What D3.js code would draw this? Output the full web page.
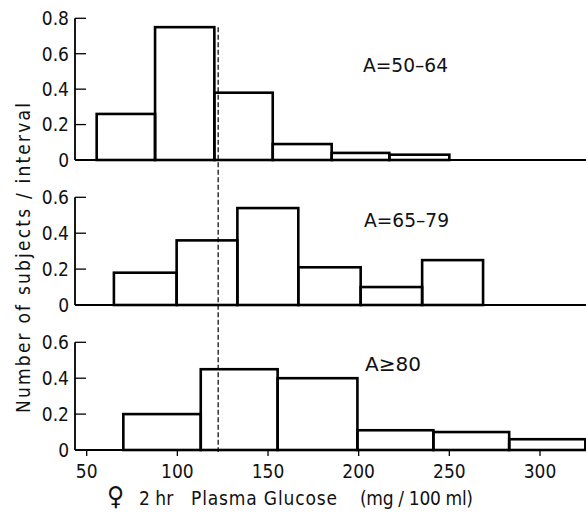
<!DOCTYPE html>
<html><head><meta charset="utf-8">
<script src="https://cdn.jsdelivr.net/npm/d3@7"></script>
<style>
body{margin:0;background:#fff;}
text{font-family:"DejaVu Sans",sans-serif;font-stretch:condensed;fill:#111;}
</style></head>
<body><svg id="c" width="586" height="518"></svg>
<script>
// ---- data ----
const panelLabels = ["A=50\u201364", "A=65\u201379", "A\u226580"];
const edges50 = [55.5, 87.7, 120.4, 152.6, 185.1, 216.9, 250];
const values50 = [0.26, 0.75, 0.38, 0.09, 0.04, 0.03];
const edges65 = [65, 99.6, 133.1, 166.7, 201.1, 235, 268.6];
const values65 = [0.18, 0.36, 0.54, 0.21, 0.10, 0.25];
const edges80 = [70.2, 112.9, 155.3, 199.3, 241.2, 283, 325];
const values80 = [0.20, 0.45, 0.40, 0.11, 0.10, 0.06];
const yTicksTop = [0, 0.2, 0.4, 0.6, 0.8];
const yTicksOther = [0, 0.2, 0.4, 0.6];
const xTicks = [50, 100, 150, 200, 250, 300];
const refValue = 122.5;

const svg = d3.select("#c");
const x = d3.scaleLinear().domain([50, 300]).range([86.7, 540]);
const axisX = 75, rightEdge = 586;

const panels = [
  {edges: edges50, values: values50, ymax: 0.8, ticks: yTicksTop, y0: 160, y1: 18.3, label: panelLabels[0], lx: 363, ly: 71.5},
  {edges: edges65, values: values65, ymax: 0.6, ticks: yTicksOther, y0: 305, y1: 197.3, label: panelLabels[1], lx: 364, ly: 227},
  {edges: edges80, values: values80, ymax: 0.6, ticks: yTicksOther, y0: 450, y1: 342.3, label: panelLabels[2], lx: 365, ly: 370.5}
];

panels.forEach((p, pi) => {
  const y = d3.scaleLinear().domain([0, p.ymax]).range([p.y0, p.y1]);
  p.y = y;
  const g = svg.append("g");
  const bins = p.values.map((v, i) => ({x0: p.edges[i], x1: p.edges[i + 1], v}));
  g.selectAll("rect").data(bins).join("rect")
    .attr("x", d => x(d.x0)).attr("width", d => x(d.x1) - x(d.x0))
    .attr("y", d => y(d.v)).attr("height", d => y(0) - y(d.v))
    .attr("fill", "none").attr("stroke", "#000").attr("stroke-width", 2.6);
  g.append("line").attr("x1", axisX).attr("x2", axisX).attr("y1", y(p.ymax)).attr("y2", y(0))
    .attr("stroke", "#000").attr("stroke-width", 1.8);
  g.append("line").attr("x1", axisX).attr("x2", rightEdge).attr("y1", y(0)).attr("y2", y(0))
    .attr("stroke", "#000").attr("stroke-width", 1.8);
  g.selectAll("line.t").data(p.ticks.filter(t => t > 0)).join("line").attr("class", "t")
    .attr("x1", axisX).attr("x2", axisX + 11).attr("y1", d => y(d)).attr("y2", d => y(d))
    .attr("stroke", "#000").attr("stroke-width", 1.3);
  g.selectAll("text.tl").data(p.ticks).join("text").attr("class", "tl")
    .attr("x", 69).attr("y", d => y(d)).attr("dy", "0.36em")
    .attr("text-anchor", "end").attr("font-size", 19)
    .text(d => d === 0 ? "0" : d3.format(".1f")(d));
  g.append("text").attr("x", p.lx).attr("y", p.ly).attr("font-size", 20)
    .attr("textLength", pi === 2 ? 56 : 85).attr("lengthAdjust", "spacingAndGlyphs")
    .text(p.label);
});

const yb = panels[2].y;
svg.selectAll("line.xt").data(xTicks).join("line").attr("class", "xt")
  .attr("x1", d => x(d)).attr("x2", d => x(d)).attr("y1", yb(0)).attr("y2", yb(0) + 6)
  .attr("stroke", "#000").attr("stroke-width", 1.3);
svg.selectAll("text.xl").data(xTicks).join("text").attr("class", "xl")
  .attr("x", d => x(d)).attr("y", 478).attr("text-anchor", "middle").attr("font-size", 19)
  .text(d => d);

svg.append("line").attr("x1", x(refValue)).attr("x2", x(refValue))
  .attr("y1", panels[0].y(0.75)).attr("y2", yb(0) + 2)
  .attr("stroke", "#000").attr("stroke-width", 1.2).attr("stroke-dasharray", "5,2.5");

const xt = svg.append("text").attr("y", 505).attr("font-size", 19);
xt.append("tspan").attr("x", 107).attr("font-size", 26).attr("font-weight", "bold").text("\u2640");
xt.append("tspan").attr("x", 139).text("2 hr");
xt.append("tspan").attr("x", 191).attr("textLength", 146).attr("lengthAdjust", "spacing").text("Plasma  Glucose");
xt.append("tspan").attr("x", 360).attr("textLength", 113).attr("lengthAdjust", "spacing").text("(mg / 100 ml)");

svg.append("text").attr("transform", "translate(30,258) rotate(-90)")
  .attr("text-anchor", "middle").attr("font-size", 19)
  .attr("textLength", 310).attr("lengthAdjust", "spacing")
  .text("Number  of  subjects  /  interval");
</script></body></html>
